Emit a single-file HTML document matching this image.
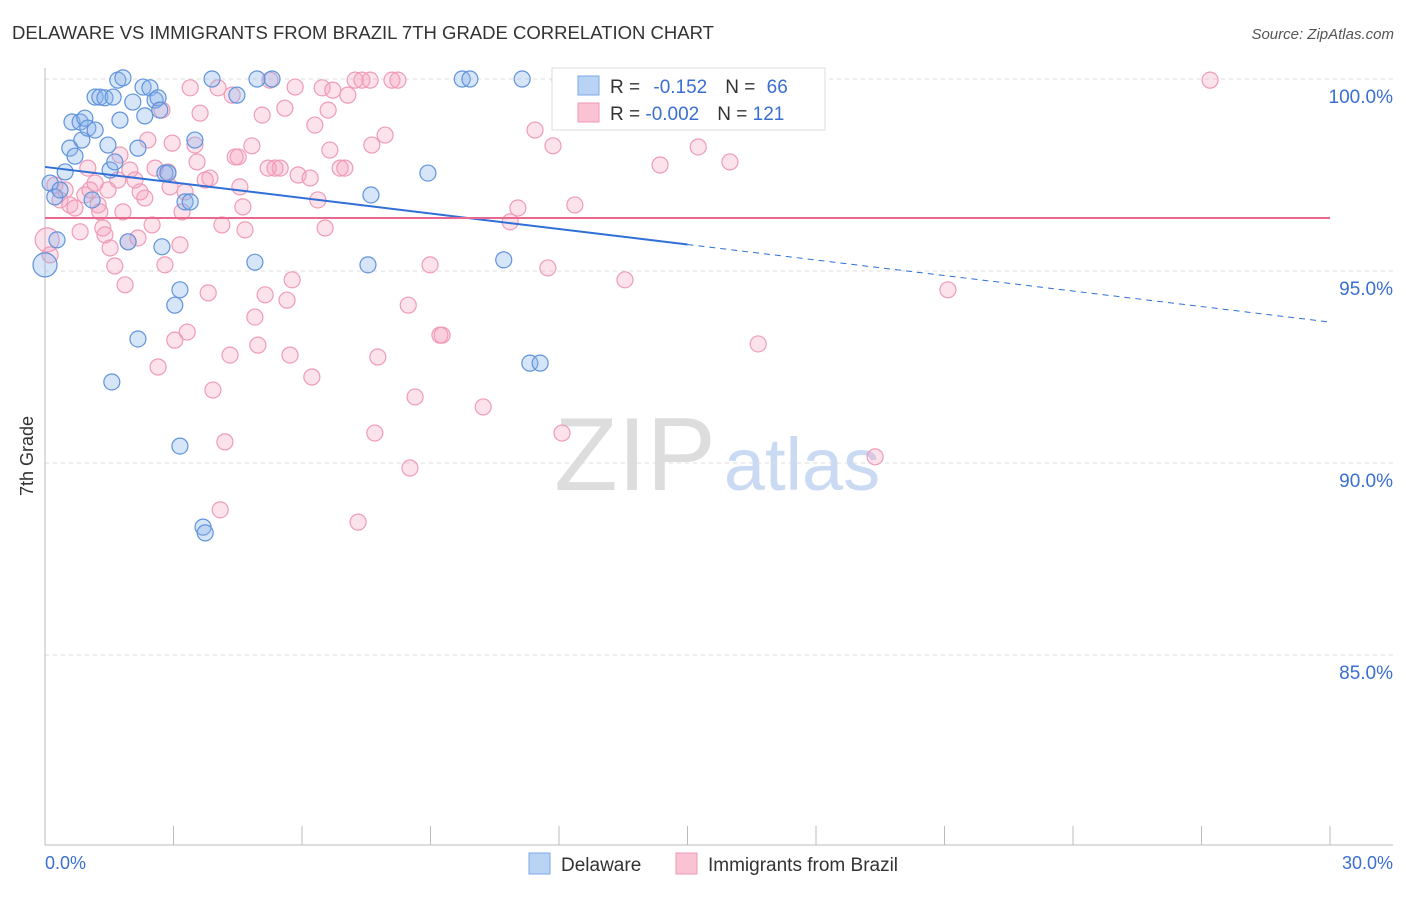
<!DOCTYPE html>
<html><head><meta charset="utf-8"><style>
body{margin:0;background:#fff;font-family:"Liberation Sans",sans-serif;}
svg text{font-family:"Liberation Sans",sans-serif;}
</style></head><body>
<svg id="chart" width="1406" height="892" xmlns="http://www.w3.org/2000/svg">
<text x="12" y="39" font-size="18" fill="#333" textLength="702" lengthAdjust="spacingAndGlyphs">DELAWARE VS IMMIGRANTS FROM BRAZIL 7TH GRADE CORRELATION CHART</text>
<text x="1394" y="39" font-size="15" fill="#555" text-anchor="end" font-style="italic">Source: ZipAtlas.com</text>
<text x="33" y="456" font-size="18" fill="#333" text-anchor="middle" transform="rotate(-90 33 456)">7th Grade</text>
<g><text x="635" y="490" font-size="104" fill="#ddd" font-family="Liberation Serif" text-anchor="middle">ZIP</text><text x="802" y="490" font-size="74" fill="#c9daf2" text-anchor="middle">atlas</text></g>
<g id="grid"></g><g id="axes"></g><g id="pts"></g><g id="lines"></g>
<g>
<rect x="552" y="68" width="273" height="62" fill="#fff" stroke="#ddd"/>
<rect x="578" y="76" width="21" height="19" fill="#b9d3f5" stroke="#7ea9e6"/>
<rect x="578" y="103" width="21" height="19" fill="#f9c3d3" stroke="#ee9ab5"/>
<text x="610" y="93" font-size="19" fill="#333">R = <tspan fill="#3a6fd0" dx="8">-0.152</tspan><tspan dx="18" fill="#333">N = </tspan><tspan dx="6" fill="#3a6fd0">66</tspan></text>
<text x="610" y="120" font-size="19" fill="#333">R = <tspan fill="#3a6fd0">-0.002</tspan><tspan dx="18" fill="#333">N = </tspan><tspan fill="#3a6fd0">121</tspan></text>
</g>
<g>
<rect x="529" y="853" width="21" height="21" fill="#b9d3f5" stroke="#7ea9e6"/>
<text x="561" y="871" font-size="19" fill="#333">Delaware</text>
<rect x="676" y="853" width="21" height="21" fill="#f9c3d3" stroke="#ee9ab5"/>
<text x="708" y="871" font-size="19" fill="#333">Immigrants from Brazil</text>
</g>
</svg>
<script>
const blueX=[0,0.12,0.23,0.28,0.35,0.47,0.58,0.63,0.70,0.82,0.86,0.93,1.00,1.10,1.17,1.17,1.28,1.40,1.47,1.52,1.59,1.63,1.70,1.75,1.82,1.94,2.05,2.17,2.17,2.29,2.33,2.45,2.57,2.64,2.68,2.73,2.80,2.87,3.03,3.15,3.15,3.27,3.39,3.50,3.69,3.74,3.90,4.48,4.90,4.95,5.30,7.54,7.61,8.94,9.74,9.92,10.71,11.14,11.32,11.56,1.56];
const blueY=[95.16,97.29,96.93,95.81,97.11,97.58,98.20,98.88,97.99,98.88,98.41,98.98,98.72,96.85,98.67,99.53,99.53,99.51,98.28,97.63,99.53,97.84,99.97,98.93,100.03,95.76,99.40,98.20,93.23,99.79,99.04,99.77,99.45,99.51,99.19,95.63,97.55,97.55,94.11,94.51,90.44,96.80,96.80,98.41,88.33,88.18,100,99.58,95.23,100,100,95.16,96.98,97.55,100,100,95.29,100,92.60,92.60,92.11];
const pinkX=[0.05,0.12,0.23,0.35,0.47,0.58,0.70,0.82,0.93,1.00,1.05,1.17,1.24,1.28,1.35,1.40,1.47,1.52,1.63,1.70,1.75,1.82,1.87,1.94,1.98,2.10,2.17,2.22,2.33,2.40,2.50,2.57,2.64,2.73,2.80,2.87,2.92,2.97,3.03,3.15,3.20,3.27,3.32,3.39,3.50,3.55,3.62,3.74,3.81,3.85,3.92,4.04,4.09,4.13,4.20,4.32,4.37,4.44,4.51,4.55,4.62,4.67,4.83,4.90,4.97,5.07,5.14,5.21,5.25,5.37,5.49,5.60,5.65,5.72,5.77,5.84,5.91,6.19,6.23,6.30,6.37,6.47,6.54,6.61,6.65,6.72,6.89,7.00,7.07,7.24,7.31,7.40,7.59,7.63,7.70,7.77,7.94,8.10,8.24,8.48,8.52,8.64,8.99,9.22,9.27,10.23,10.86,11.04,11.44,11.74,11.86,12.02,12.07,12.37,13.54,13.89,14.36,15.25,15.99,16.23,16.65,19.38,21.08,27.20];
const pinkY=[95.81,95.42,97.24,96.85,97.11,96.72,96.64,96.02,96.98,97.68,97.11,97.29,96.72,96.54,96.12,95.94,97.11,95.60,95.13,97.37,98.02,96.54,94.64,95.76,97.63,97.37,95.86,97.06,96.90,98.41,96.20,97.68,92.50,99.19,95.16,97.58,97.19,98.33,93.20,95.68,96.54,97.06,93.41,99.77,98.28,97.84,99.11,97.37,94.43,97.42,91.90,99.77,88.78,96.20,90.55,92.81,99.58,97.97,97.97,97.19,96.67,96.07,98.26,93.80,93.07,99.06,94.38,97.68,99.97,97.68,97.68,99.24,94.24,92.81,94.77,99.79,97.50,97.42,92.24,98.80,96.85,99.77,96.12,99.19,98.15,99.71,97.68,97.68,99.58,99.97,88.46,99.97,99.97,98.28,90.78,92.76,98.54,99.97,99.97,94.11,89.87,91.72,95.16,93.33,93.33,91.46,96.28,96.64,98.67,95.08,98.26,99.97,90.78,96.72,94.77,99.97,97.76,98.23,97.84,99.97,93.10,90.16,94.51,99.97];
const yTicks=[100,95,90,85];
const yTickLabels=["100.0%","95.0%","90.0%","85.0%"];
const blueTrend=[97.71,93.67]; const blueSolidEnd=15;
const pinkTrend=[96.38,96.38];
const X0=45,X1=1330,Y100=79,PX=38.4;
const sx=v=>X0+(v/30)*(X1-X0);
const sy=v=>Y100+(100-v)*PX;
const NS="http://www.w3.org/2000/svg";
function mk(t,a,p){const e=document.createElementNS(NS,t);for(const k in a)e.setAttribute(k,a[k]);p.appendChild(e);return e;}
const grid=document.getElementById('grid'),axes=document.getElementById('axes'),pts=document.getElementById('pts'),lines=document.getElementById('lines');
yTicks.forEach((t,i)=>{
 const l=mk('line',{x1:X0,x2:1393,y1:sy(t),y2:sy(t),stroke:'#ddd','stroke-dasharray':'4,4'},grid);
 
 
 const tx=mk('text',{x:1393,y:sy(t)+24,'font-size':19,fill:'#3a6fd0','text-anchor':'end'},grid);
 tx.textContent=yTickLabels[i];
 
 
});
let a=mk('line',{x1:X0,x2:X0,y1:68,y2:845,stroke:'#bbb'},axes);


a=mk('line',{x1:X0,x2:1393,y1:845,y2:845,stroke:'#bbb'},axes);


for(let i=0;i<=10;i++){const t=mk('line',{x1:sx(i*3),x2:sx(i*3),y1:826,y2:845,stroke:'#bbb'},axes);
 
 }
let xl=mk('text',{x:45,y:869,'font-size':18,fill:'#3a6fd0'},axes);xl.textContent='0.0%';


xl=mk('text',{x:1393,y:869,'font-size':18,fill:'#3a6fd0','text-anchor':'end'},axes);xl.textContent='30.0%';


pinkX.forEach((x,i)=>{const c=mk('circle',{cx:sx(x),cy:sy(pinkY[i]),r:i===0?12:8,fill:'rgba(245,160,188,0.3)',stroke:'#ef9bb6','stroke-width':1.2},pts);
 
 });
blueX.forEach((x,i)=>{const c=mk('circle',{cx:sx(x),cy:sy(blueY[i]),r:i===0?12:8,fill:'rgba(140,180,235,0.35)',stroke:'#5f93dc','stroke-width':1.2},pts);
 
 });
const by=x=>blueTrend[0]+(blueTrend[1]-blueTrend[0])*x/30;
let ln=mk('line',{x1:sx(0),y1:sy(by(0)),x2:sx(blueSolidEnd),y2:sy(by(blueSolidEnd)),stroke:'#2f6fd6','stroke-width':2},lines);


ln=mk('line',{x1:sx(blueSolidEnd),y1:sy(by(blueSolidEnd)),x2:sx(30),y2:sy(by(30)),stroke:'#2f6fd6','stroke-width':1,'stroke-dasharray':'6,5'},lines);


ln=mk('line',{x1:sx(0),y1:sy(pinkTrend[0]),x2:sx(30),y2:sy(pinkTrend[1]),stroke:'#e8688f','stroke-width':2},lines);


</script>
</body></html>
